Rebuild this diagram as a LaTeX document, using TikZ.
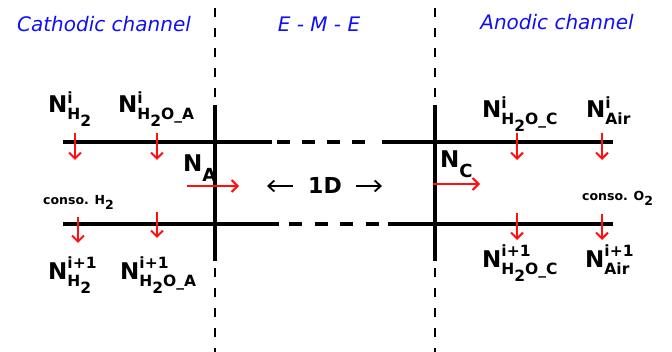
\documentclass[tikz,border=0pt]{standalone}
\usepackage{fontspec}
\setmainfont{DejaVu Sans}
\usetikzlibrary{arrows.meta}
\definecolor{ttl}{RGB}{15,15,245}
\definecolor{flux}{RGB}{255,15,15}
\newcommand{\subf}{\fontsize{15.5}{15.5}\selectfont}
\newcommand{\Htwo}{H\raisebox{-0.45em}{2}}
\newcommand{\Nlab}[3]{N\rlap{\raisebox{#3}{\subf #1}}\raisebox{-0.3em}{\subf #2}}
\tikzset{
  lab/.style={anchor=base west,inner sep=0pt,font=\fontsize{23}{23}\selectfont\bfseries},
  ttlbl/.style={anchor=base,inner sep=0pt,text=ttl,font=\fontsize{20}{20}\selectfont\itshape},
  conso/.style={anchor=base west,inner sep=0pt,font=\fontsize{12.5}{12.5}\selectfont\bfseries},
  wall/.style={line width=3.5pt},
  sep/.style={line width=1.3pt,dash pattern=on 9pt off 11pt},
  fl/.style={flux,line width=2.7pt,-{Straight Barb[length=6pt,width=12pt,line width=2pt]}},
  dim/.style={black,line width=2.2pt,-{Straight Barb[length=6pt,width=11pt,line width=1.8pt]}}
}
\begin{document}
\begin{tikzpicture}[x=1pt,y=-1pt]
\useasboundingbox (0,0) rectangle (672,352);
% titles
\node[ttlbl] (tc) at (104,32) {Cathodic channel};
\node[ttlbl] (te) at (319,32) {E - M - E};
\node[ttlbl] (ta) at (557,30) {Anodic channel};
% separators
\coordinate (s1t) at (215,8); \coordinate (s1b) at (215,352);
\coordinate (s2t) at (435,8); \coordinate (s2b) at (435,352);
\draw[sep] (s1t) -- (s1b);
\draw[sep] (s2t) -- (s2b);
% walls
\coordinate (w1t) at (215,105); \coordinate (w1b) at (215,261);
\coordinate (w2t) at (435,105); \coordinate (w2b) at (435,261);
\draw[wall] (w1t) -- (w1b);
\draw[wall] (w2t) -- (w2b);
% top line
\coordinate (t0) at (63,142); \coordinate (t1) at (272,142);
\coordinate (t2) at (382,142); \coordinate (t3) at (613,142);
\draw[wall] (t0) -- (t1);
\draw[wall] (t2) -- (t3);
\foreach \a in {277,302,327,352} \draw[wall] (\a,142) -- ++(13,0);
% bottom line
\coordinate (b0) at (63,224); \coordinate (b1) at (279,224);
\coordinate (b2) at (388,224); \coordinate (b3) at (613,224);
\draw[wall] (b0) -- (b1);
\draw[wall] (b2) -- (b3);
\foreach \a in {289,315,340,366} \draw[wall] (\a,224) -- ++(13,0);
% labels top
\node[lab] (n1) at (48,113) {\Nlab{i}{\Htwo}{0.4em}};
\node[lab] (n2) at (118,113) {\Nlab{i}{\Htwo O\_A}{0.4em}};
\node[lab] (n3) at (482,118) {\Nlab{i}{\Htwo O\_C}{0.4em}};
\node[lab] (n4) at (586,118) {\Nlab{i}{Air}{0.4em}};
% labels bottom
\node[lab] (m1) at (48,280) {\Nlab{i+1}{\Htwo}{0.5em}};
\node[lab] (m2) at (120,280) {\Nlab{i+1}{\Htwo O\_A}{0.5em}};
\node[lab] (m3) at (482,268) {\Nlab{i+1}{\Htwo O\_C}{0.5em}};
\node[lab] (m4) at (585,268) {\Nlab{i+1}{Air}{0.5em}};
% membrane fluxes
\node[lab] (na) at (183,172) {N\raisebox{-0.42em}{\fontsize{18}{18}\selectfont A}};
\node[lab] (nc) at (440,168) {N\raisebox{-0.4em}{\fontsize{18}{18}\selectfont C}};
% conso
\node[conso] (ch) at (43,205) {conso. H\raisebox{-0.4em}{2}};
\node[conso] (co) at (582,201) {conso. O\raisebox{-0.4em}{2}};
% 1D
\node[lab,font=\fontsize{22}{22}\selectfont\bfseries] (od) at (308,194) {1D};
\coordinate (l1) at (293,186); \coordinate (l2) at (267,186);
\coordinate (r1) at (356,186); \coordinate (r2) at (382,186);
\draw[dim] (l1) -- (l2);
\draw[dim] (r1) -- (r2);
% red arrows
\coordinate (a1) at (75,133); \coordinate (a1e) at (75,160);
\coordinate (a2) at (157,133); \coordinate (a2e) at (157,160);
\coordinate (a3) at (517,133); \coordinate (a3e) at (517,160);
\coordinate (a4) at (602,133); \coordinate (a4e) at (602,160);
\coordinate (c1) at (78,217); \coordinate (c1e) at (78,243);
\coordinate (c2) at (157,212); \coordinate (c2e) at (157,238);
\coordinate (c3) at (517,213); \coordinate (c3e) at (517,240);
\coordinate (c4) at (602,214); \coordinate (c4e) at (602,240);
\coordinate (fa) at (187,186); \coordinate (fae) at (239,186);
\coordinate (fc) at (433,184); \coordinate (fce) at (480,184);
\foreach \p/\q in {a1/a1e,a2/a2e,a3/a3e,a4/a4e,c1/c1e,c2/c2e,c3/c3e,c4/c4e,fa/fae,fc/fce}
  \draw[fl] (\p) -- (\q);
\end{tikzpicture}
\end{document}
